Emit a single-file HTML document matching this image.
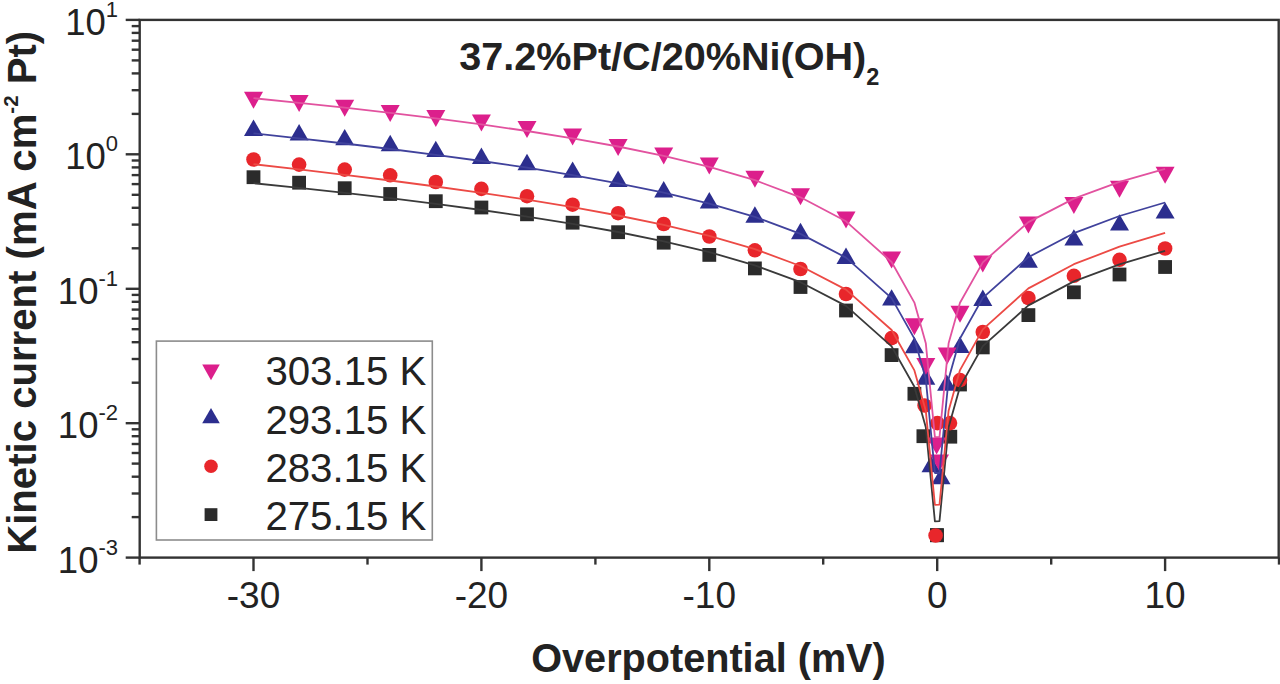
<!DOCTYPE html>
<html><head><meta charset="utf-8"><style>
html,body{margin:0;padding:0;background:#fff;}
svg{display:block;}
</style></head><body>
<svg width="1280" height="684" viewBox="0 0 1280 684">
<rect width="1280" height="684" fill="#fff"/>
<rect x="246.6" y="170.3" width="13.8" height="13.8" fill="#2b2b2b"/>
<rect x="292.2" y="175.8" width="13.8" height="13.8" fill="#2b2b2b"/>
<rect x="337.8" y="181.3" width="13.8" height="13.8" fill="#2b2b2b"/>
<rect x="383.3" y="187.1" width="13.8" height="13.8" fill="#2b2b2b"/>
<rect x="428.9" y="194.3" width="13.8" height="13.8" fill="#2b2b2b"/>
<rect x="474.5" y="200.6" width="13.8" height="13.8" fill="#2b2b2b"/>
<rect x="520.1" y="207.4" width="13.8" height="13.8" fill="#2b2b2b"/>
<rect x="565.7" y="215.8" width="13.8" height="13.8" fill="#2b2b2b"/>
<rect x="611.2" y="225.3" width="13.8" height="13.8" fill="#2b2b2b"/>
<rect x="656.8" y="235.8" width="13.8" height="13.8" fill="#2b2b2b"/>
<rect x="702.4" y="248.0" width="13.8" height="13.8" fill="#2b2b2b"/>
<rect x="748.0" y="261.5" width="13.8" height="13.8" fill="#2b2b2b"/>
<rect x="793.6" y="280.1" width="13.8" height="13.8" fill="#2b2b2b"/>
<rect x="839.1" y="303.6" width="13.8" height="13.8" fill="#2b2b2b"/>
<rect x="884.7" y="348.2" width="13.8" height="13.8" fill="#2b2b2b"/>
<rect x="907.5" y="386.9" width="13.8" height="13.8" fill="#2b2b2b"/>
<rect x="953.1" y="377.6" width="13.8" height="13.8" fill="#2b2b2b"/>
<rect x="975.9" y="340.5" width="13.8" height="13.8" fill="#2b2b2b"/>
<rect x="1021.5" y="308.2" width="13.8" height="13.8" fill="#2b2b2b"/>
<rect x="1067.0" y="285.4" width="13.8" height="13.8" fill="#2b2b2b"/>
<rect x="1112.6" y="267.6" width="13.8" height="13.8" fill="#2b2b2b"/>
<rect x="1158.2" y="260.1" width="13.8" height="13.8" fill="#2b2b2b"/>
<rect x="916.5" y="429.3" width="13.8" height="13.8" fill="#2b2b2b"/>
<rect x="943.4" y="429.8" width="13.8" height="13.8" fill="#2b2b2b"/>
<rect x="930.0" y="528.3" width="13.8" height="13.8" fill="#2b2b2b"/>
<circle cx="253.5" cy="159.5" r="7.30" fill="#e8262b"/>
<circle cx="299.1" cy="164.6" r="7.30" fill="#e8262b"/>
<circle cx="344.7" cy="169.6" r="7.30" fill="#e8262b"/>
<circle cx="390.2" cy="175.3" r="7.30" fill="#e8262b"/>
<circle cx="435.8" cy="182.0" r="7.30" fill="#e8262b"/>
<circle cx="481.4" cy="188.9" r="7.30" fill="#e8262b"/>
<circle cx="527.0" cy="196.2" r="7.30" fill="#e8262b"/>
<circle cx="572.6" cy="204.7" r="7.30" fill="#e8262b"/>
<circle cx="618.1" cy="213.2" r="7.30" fill="#e8262b"/>
<circle cx="663.7" cy="224.0" r="7.30" fill="#e8262b"/>
<circle cx="709.3" cy="236.5" r="7.30" fill="#e8262b"/>
<circle cx="754.9" cy="250.3" r="7.30" fill="#e8262b"/>
<circle cx="800.5" cy="269.0" r="7.30" fill="#e8262b"/>
<circle cx="846.0" cy="294.0" r="7.30" fill="#e8262b"/>
<circle cx="891.6" cy="338.1" r="7.30" fill="#e8262b"/>
<circle cx="960.0" cy="380.1" r="7.30" fill="#e8262b"/>
<circle cx="982.8" cy="332.0" r="7.30" fill="#e8262b"/>
<circle cx="1028.4" cy="298.0" r="7.30" fill="#e8262b"/>
<circle cx="1073.9" cy="275.8" r="7.30" fill="#e8262b"/>
<circle cx="1119.5" cy="259.8" r="7.30" fill="#e8262b"/>
<circle cx="1165.1" cy="248.5" r="7.30" fill="#e8262b"/>
<circle cx="924.6" cy="405.5" r="7.30" fill="#e8262b"/>
<circle cx="937.4" cy="423.1" r="7.30" fill="#e8262b"/>
<circle cx="950.0" cy="423.1" r="7.30" fill="#e8262b"/>
<polygon points="244.0,135.9 263.0,135.9 253.5,119.5" fill="#2c2e8e"/>
<polygon points="289.6,140.4 308.6,140.4 299.1,124.0" fill="#2c2e8e"/>
<polygon points="335.2,145.3 354.2,145.3 344.7,128.9" fill="#2c2e8e"/>
<polygon points="380.7,151.2 399.7,151.2 390.2,134.8" fill="#2c2e8e"/>
<polygon points="426.3,157.1 445.3,157.1 435.8,140.7" fill="#2c2e8e"/>
<polygon points="471.9,163.9 490.9,163.9 481.4,147.5" fill="#2c2e8e"/>
<polygon points="517.5,170.2 536.5,170.2 527.0,153.8" fill="#2c2e8e"/>
<polygon points="563.1,177.8 582.1,177.8 572.6,161.4" fill="#2c2e8e"/>
<polygon points="608.6,187.0 627.6,187.0 618.1,170.6" fill="#2c2e8e"/>
<polygon points="654.2,197.4 673.2,197.4 663.7,181.0" fill="#2c2e8e"/>
<polygon points="699.8,208.4 718.8,208.4 709.3,192.0" fill="#2c2e8e"/>
<polygon points="745.4,222.7 764.4,222.7 754.9,206.3" fill="#2c2e8e"/>
<polygon points="791.0,239.2 810.0,239.2 800.5,222.8" fill="#2c2e8e"/>
<polygon points="836.5,263.9 855.5,263.9 846.0,247.5" fill="#2c2e8e"/>
<polygon points="882.1,305.6 901.1,305.6 891.6,289.2" fill="#2c2e8e"/>
<polygon points="904.9,353.3 923.9,353.3 914.4,336.9" fill="#2c2e8e"/>
<polygon points="916.3,384.7 935.3,384.7 925.8,368.3" fill="#2c2e8e"/>
<polygon points="950.5,353.0 969.5,353.0 960.0,336.6" fill="#2c2e8e"/>
<polygon points="973.3,306.0 992.3,306.0 982.8,289.6" fill="#2c2e8e"/>
<polygon points="1018.9,267.8 1037.9,267.8 1028.4,251.4" fill="#2c2e8e"/>
<polygon points="1064.4,245.6 1083.4,245.6 1073.9,229.2" fill="#2c2e8e"/>
<polygon points="1110.0,230.6 1129.0,230.6 1119.5,214.2" fill="#2c2e8e"/>
<polygon points="1155.6,218.6 1174.6,218.6 1165.1,202.2" fill="#2c2e8e"/>
<polygon points="921.5,472.2 940.5,472.2 931.0,455.8" fill="#2c2e8e"/>
<polygon points="931.5,484.2 950.5,484.2 941.0,467.8" fill="#2c2e8e"/>
<polygon points="937.1,390.7 956.1,390.7 946.6,374.3" fill="#2c2e8e"/>
<polygon points="244.0,91.8 263.0,91.8 253.5,108.8" fill="#dc1f8c"/>
<polygon points="289.6,95.0 308.6,95.0 299.1,112.0" fill="#dc1f8c"/>
<polygon points="335.2,99.7 354.2,99.7 344.7,116.7" fill="#dc1f8c"/>
<polygon points="380.7,104.9 399.7,104.9 390.2,121.9" fill="#dc1f8c"/>
<polygon points="426.3,109.9 445.3,109.9 435.8,126.9" fill="#dc1f8c"/>
<polygon points="471.9,114.5 490.9,114.5 481.4,131.5" fill="#dc1f8c"/>
<polygon points="517.5,121.0 536.5,121.0 527.0,138.0" fill="#dc1f8c"/>
<polygon points="563.1,128.6 582.1,128.6 572.6,145.6" fill="#dc1f8c"/>
<polygon points="608.6,139.1 627.6,139.1 618.1,156.1" fill="#dc1f8c"/>
<polygon points="654.2,147.6 673.2,147.6 663.7,164.6" fill="#dc1f8c"/>
<polygon points="699.8,157.5 718.8,157.5 709.3,174.5" fill="#dc1f8c"/>
<polygon points="745.4,170.7 764.4,170.7 754.9,187.7" fill="#dc1f8c"/>
<polygon points="791.0,188.2 810.0,188.2 800.5,205.2" fill="#dc1f8c"/>
<polygon points="836.5,211.5 855.5,211.5 846.0,228.5" fill="#dc1f8c"/>
<polygon points="882.1,251.6 901.1,251.6 891.6,268.6" fill="#dc1f8c"/>
<polygon points="904.9,318.3 923.9,318.3 914.4,335.3" fill="#dc1f8c"/>
<polygon points="916.3,358.1 935.3,358.1 925.8,375.1" fill="#dc1f8c"/>
<polygon points="950.5,305.7 969.5,305.7 960.0,322.7" fill="#dc1f8c"/>
<polygon points="973.3,255.5 992.3,255.5 982.8,272.5" fill="#dc1f8c"/>
<polygon points="1018.9,216.4 1037.9,216.4 1028.4,233.4" fill="#dc1f8c"/>
<polygon points="1064.4,197.1 1083.4,197.1 1073.9,214.1" fill="#dc1f8c"/>
<polygon points="1110.0,180.8 1129.0,180.8 1119.5,197.8" fill="#dc1f8c"/>
<polygon points="1155.6,166.8 1174.6,166.8 1165.1,183.8" fill="#dc1f8c"/>
<polygon points="927.1,437.5 946.1,437.5 936.6,454.5" fill="#dc1f8c"/>
<polygon points="930.0,454.5 949.0,454.5 939.5,471.5" fill="#dc1f8c"/>
<polygon points="937.7,347.4 956.7,347.4 947.2,364.4" fill="#dc1f8c"/>
<rect x="930.0" y="528.3" width="13.8" height="13.8" fill="#2b2b2b"/>
<circle cx="935.6" cy="535.5" r="7.30" fill="#e8262b"/>
<polyline points="253.5,183.2 299.1,187.9 344.7,192.9 390.2,198.2 435.8,203.9 481.4,210.0 527.0,216.6 572.6,223.8 618.1,232.0 663.7,241.3 709.3,252.1 754.9,265.3 800.5,282.2 846.0,305.9 891.6,346.4 914.4,386.8 925.8,427.3 934.9,521.3 939.5,521.2 948.6,427.2 960.0,386.7 982.8,346.1 1028.4,305.4 1073.9,281.4 1119.5,264.3 1165.1,250.8" fill="none" stroke="#3a3a3a" stroke-width="1.8" stroke-linejoin="round"/>
<polyline points="253.5,164.2 299.1,169.4 344.7,174.8 390.2,180.5 435.8,186.5 481.4,192.8 527.0,199.7 572.6,207.2 618.1,215.5 663.7,224.9 709.3,235.9 754.9,249.1 800.5,266.0 846.0,289.6 891.6,330.0 914.4,370.4 925.8,410.8 934.9,504.8 939.5,504.7 948.6,410.7 960.0,370.1 982.8,329.4 1028.4,288.4 1073.9,264.2 1119.5,246.7 1165.1,232.9" fill="none" stroke="#ec4a45" stroke-width="1.8" stroke-linejoin="round"/>
<polyline points="253.5,133.4 299.1,138.3 344.7,143.5 390.2,149.0 435.8,154.8 481.4,161.0 527.0,167.7 572.6,175.1 618.1,183.4 663.7,192.7 709.3,203.7 754.9,216.9 800.5,233.9 846.0,257.6 891.6,298.1 914.4,338.6 925.8,379.1 934.9,473.0 939.5,473.0 948.6,379.0 960.0,338.5 982.8,297.9 1028.4,257.2 1073.9,233.2 1119.5,216.0 1165.1,202.5" fill="none" stroke="#40429c" stroke-width="1.8" stroke-linejoin="round"/>
<polyline points="253.5,98.2 299.1,102.8 344.7,107.6 390.2,112.8 435.8,118.4 481.4,124.4 527.0,131.0 572.6,138.3 618.1,146.5 663.7,155.9 709.3,166.9 754.9,180.2 800.5,197.3 846.0,221.3 891.6,262.0 914.4,302.6 925.8,343.2 934.9,437.2 939.5,437.2 948.6,343.3 960.0,302.8 982.8,262.4 1028.4,222.1 1073.9,198.6 1119.5,181.9 1165.1,168.9" fill="none" stroke="#e2529f" stroke-width="1.8" stroke-linejoin="round"/>
<rect x="139.7" y="19.9" width="1139.0" height="537.7" fill="none" stroke="#333" stroke-width="2.4"/>
<line x1="125.69999999999999" y1="557.6" x2="139.7" y2="557.6" stroke="#333" stroke-width="2.4"/>
<line x1="131.7" y1="517.1" x2="139.7" y2="517.1" stroke="#333" stroke-width="2.4"/>
<line x1="131.7" y1="493.5" x2="139.7" y2="493.5" stroke="#333" stroke-width="2.4"/>
<line x1="131.7" y1="476.7" x2="139.7" y2="476.7" stroke="#333" stroke-width="2.4"/>
<line x1="131.7" y1="463.6" x2="139.7" y2="463.6" stroke="#333" stroke-width="2.4"/>
<line x1="131.7" y1="453.0" x2="139.7" y2="453.0" stroke="#333" stroke-width="2.4"/>
<line x1="131.7" y1="444.0" x2="139.7" y2="444.0" stroke="#333" stroke-width="2.4"/>
<line x1="131.7" y1="436.2" x2="139.7" y2="436.2" stroke="#333" stroke-width="2.4"/>
<line x1="131.7" y1="429.3" x2="139.7" y2="429.3" stroke="#333" stroke-width="2.4"/>
<line x1="125.69999999999999" y1="423.2" x2="139.7" y2="423.2" stroke="#333" stroke-width="2.4"/>
<line x1="131.7" y1="382.7" x2="139.7" y2="382.7" stroke="#333" stroke-width="2.4"/>
<line x1="131.7" y1="359.0" x2="139.7" y2="359.0" stroke="#333" stroke-width="2.4"/>
<line x1="131.7" y1="342.2" x2="139.7" y2="342.2" stroke="#333" stroke-width="2.4"/>
<line x1="131.7" y1="329.2" x2="139.7" y2="329.2" stroke="#333" stroke-width="2.4"/>
<line x1="131.7" y1="318.6" x2="139.7" y2="318.6" stroke="#333" stroke-width="2.4"/>
<line x1="131.7" y1="309.6" x2="139.7" y2="309.6" stroke="#333" stroke-width="2.4"/>
<line x1="131.7" y1="301.8" x2="139.7" y2="301.8" stroke="#333" stroke-width="2.4"/>
<line x1="131.7" y1="294.9" x2="139.7" y2="294.9" stroke="#333" stroke-width="2.4"/>
<line x1="125.69999999999999" y1="288.8" x2="139.7" y2="288.8" stroke="#333" stroke-width="2.4"/>
<line x1="131.7" y1="248.3" x2="139.7" y2="248.3" stroke="#333" stroke-width="2.4"/>
<line x1="131.7" y1="224.6" x2="139.7" y2="224.6" stroke="#333" stroke-width="2.4"/>
<line x1="131.7" y1="207.8" x2="139.7" y2="207.8" stroke="#333" stroke-width="2.4"/>
<line x1="131.7" y1="194.8" x2="139.7" y2="194.8" stroke="#333" stroke-width="2.4"/>
<line x1="131.7" y1="184.1" x2="139.7" y2="184.1" stroke="#333" stroke-width="2.4"/>
<line x1="131.7" y1="175.1" x2="139.7" y2="175.1" stroke="#333" stroke-width="2.4"/>
<line x1="131.7" y1="167.4" x2="139.7" y2="167.4" stroke="#333" stroke-width="2.4"/>
<line x1="131.7" y1="160.5" x2="139.7" y2="160.5" stroke="#333" stroke-width="2.4"/>
<line x1="125.69999999999999" y1="154.3" x2="139.7" y2="154.3" stroke="#333" stroke-width="2.4"/>
<line x1="131.7" y1="113.9" x2="139.7" y2="113.9" stroke="#333" stroke-width="2.4"/>
<line x1="131.7" y1="90.2" x2="139.7" y2="90.2" stroke="#333" stroke-width="2.4"/>
<line x1="131.7" y1="73.4" x2="139.7" y2="73.4" stroke="#333" stroke-width="2.4"/>
<line x1="131.7" y1="60.4" x2="139.7" y2="60.4" stroke="#333" stroke-width="2.4"/>
<line x1="131.7" y1="49.7" x2="139.7" y2="49.7" stroke="#333" stroke-width="2.4"/>
<line x1="131.7" y1="40.7" x2="139.7" y2="40.7" stroke="#333" stroke-width="2.4"/>
<line x1="131.7" y1="32.9" x2="139.7" y2="32.9" stroke="#333" stroke-width="2.4"/>
<line x1="131.7" y1="26.1" x2="139.7" y2="26.1" stroke="#333" stroke-width="2.4"/>
<line x1="125.69999999999999" y1="19.9" x2="139.7" y2="19.9" stroke="#333" stroke-width="2.4"/>
<line x1="139.6" y1="557.6" x2="139.6" y2="564.6" stroke="#333" stroke-width="2.4"/>
<line x1="253.5" y1="557.6" x2="253.5" y2="571.1" stroke="#333" stroke-width="2.4"/>
<line x1="367.5" y1="557.6" x2="367.5" y2="564.6" stroke="#333" stroke-width="2.4"/>
<line x1="481.4" y1="557.6" x2="481.4" y2="571.1" stroke="#333" stroke-width="2.4"/>
<line x1="595.4" y1="557.6" x2="595.4" y2="564.6" stroke="#333" stroke-width="2.4"/>
<line x1="709.3" y1="557.6" x2="709.3" y2="571.1" stroke="#333" stroke-width="2.4"/>
<line x1="823.2" y1="557.6" x2="823.2" y2="564.6" stroke="#333" stroke-width="2.4"/>
<line x1="937.2" y1="557.6" x2="937.2" y2="571.1" stroke="#333" stroke-width="2.4"/>
<line x1="1051.2" y1="557.6" x2="1051.2" y2="564.6" stroke="#333" stroke-width="2.4"/>
<line x1="1165.1" y1="557.6" x2="1165.1" y2="571.1" stroke="#333" stroke-width="2.4"/>
<line x1="1279.0" y1="557.6" x2="1279.0" y2="564.6" stroke="#333" stroke-width="2.4"/>
<text x="253.5" y="607.8" font-family="Liberation Sans, sans-serif" font-size="37" fill="#222" text-anchor="middle" >-30</text>
<text x="481.4" y="607.8" font-family="Liberation Sans, sans-serif" font-size="37" fill="#222" text-anchor="middle" >-20</text>
<text x="709.3" y="607.8" font-family="Liberation Sans, sans-serif" font-size="37" fill="#222" text-anchor="middle" >-10</text>
<text x="937.2" y="607.8" font-family="Liberation Sans, sans-serif" font-size="37" fill="#222" text-anchor="middle" >0</text>
<text x="1165.1" y="607.8" font-family="Liberation Sans, sans-serif" font-size="37" fill="#222" text-anchor="middle" >10</text>
<text x="118" y="572.6" font-family="Liberation Sans, sans-serif" font-size="36.5" fill="#222" text-anchor="end">10<tspan font-size="22" dy="-18">-3</tspan></text>
<text x="118" y="438.2" font-family="Liberation Sans, sans-serif" font-size="36.5" fill="#222" text-anchor="end">10<tspan font-size="22" dy="-18">-2</tspan></text>
<text x="118" y="303.8" font-family="Liberation Sans, sans-serif" font-size="36.5" fill="#222" text-anchor="end">10<tspan font-size="22" dy="-18">-1</tspan></text>
<text x="118" y="169.3" font-family="Liberation Sans, sans-serif" font-size="36.5" fill="#222" text-anchor="end">10<tspan font-size="22" dy="-18">0</tspan></text>
<text x="118" y="34.9" font-family="Liberation Sans, sans-serif" font-size="36.5" fill="#222" text-anchor="end">10<tspan font-size="22" dy="-18">1</tspan></text>
<text x="459.3" y="70" font-family="Liberation Sans, sans-serif" font-size="39.6" font-weight="bold" fill="#222">37.2%Pt/C/20%Ni(OH)<tspan font-size="23.5" dy="14.5">2</tspan></text>
<text x="708.5" y="672.3" font-family="Liberation Sans, sans-serif" font-size="41" textLength="354.5" lengthAdjust="spacingAndGlyphs" font-weight="bold" fill="#222" text-anchor="middle">Overpotential (mV)</text>
<text transform="translate(36.3,292.3) rotate(-90)" x="0" y="0" font-family="Liberation Sans, sans-serif" font-size="40.15" font-weight="bold" fill="#222" text-anchor="middle">Kinetic current (mA cm<tspan font-size="20.5" dy="-18">-2</tspan><tspan dy="18"> Pt)</tspan></text>
<rect x="156.4" y="341.1" width="275.9" height="198.9" fill="#fff" stroke="#8c8c8c" stroke-width="1.6"/>
<polygon points="202.2,364.4 219.8,364.4 211.0,380.2" fill="#dc1f8c"/>
<text x="265.4" y="384.5" font-family="Liberation Sans, sans-serif" font-size="40.5" fill="#222" text-anchor="start" textLength="161" lengthAdjust="spacingAndGlyphs" >303.15 K</text>
<polygon points="202.2,423.2 219.8,423.2 211.0,408.0" fill="#2c2e8e"/>
<text x="265.4" y="433.6" font-family="Liberation Sans, sans-serif" font-size="40.5" fill="#222" text-anchor="start" textLength="161" lengthAdjust="spacingAndGlyphs" >293.15 K</text>
<circle cx="211.0" cy="466.2" r="6.79" fill="#e8262b"/>
<text x="265.4" y="481.5" font-family="Liberation Sans, sans-serif" font-size="40.5" fill="#222" text-anchor="start" textLength="161" lengthAdjust="spacingAndGlyphs" >283.15 K</text>
<rect x="204.6" y="508.2" width="12.8" height="12.8" fill="#2b2b2b"/>
<text x="265.4" y="529.8" font-family="Liberation Sans, sans-serif" font-size="40.5" fill="#222" text-anchor="start" textLength="161" lengthAdjust="spacingAndGlyphs" >275.15 K</text>
</svg>
</body></html>
